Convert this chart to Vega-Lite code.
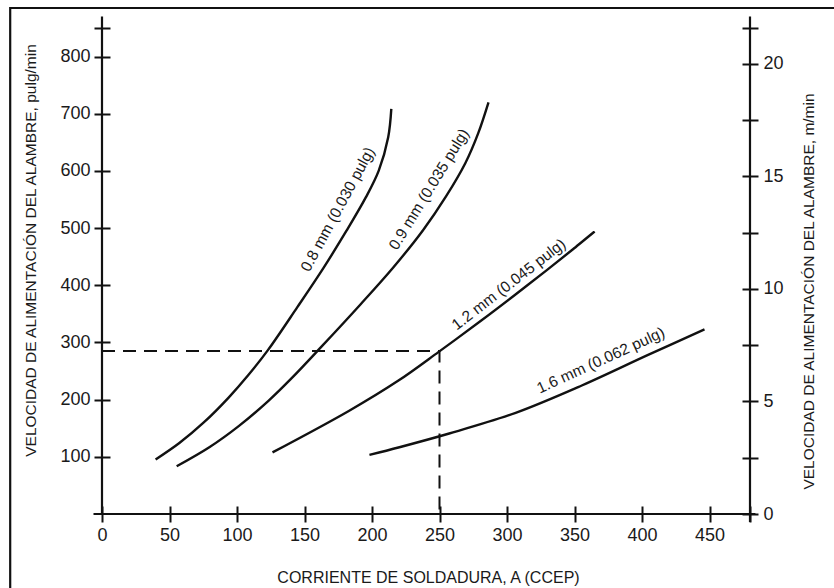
{
  "$schema": "https://vega.github.io/schema/vega-lite/v6.json",
  "width": 648,
  "height": 486,
  "autosize": {"type": "none"},
  "padding": {"left": 102, "top": 28, "right": 84, "bottom": 74},
  "background": "white",
  "config": {
    "view": {"stroke": null},
    "font": "Liberation Sans",
    "axis": {
      "grid": false,
      "domain": false,
      "offset": -8,
      "tickSize": 16,
      "tickWidth": 2,
      "tickColor": "#111",
      "labelFont": "Liberation Sans",
      "labelFontSize": 18,
      "labelColor": "#1a1a1a",
      "labelFlush": false,
      "labelOverlap": false,
      "titleFont": "Liberation Sans",
      "titleFontSize": 15.5,
      "titleFontWeight": "normal",
      "titleColor": "#1a1a1a"
    }
  },
  "datasets": {
    "curves": [
      {"alambre": "0.8", "corriente": 39.7, "velocidad": 95.3},
      {"alambre": "0.8", "corriente": 57.3, "velocidad": 124.1},
      {"alambre": "0.8", "corriente": 75.6, "velocidad": 160.5},
      {"alambre": "0.8", "corriente": 93.8, "velocidad": 203.6},
      {"alambre": "0.8", "corriente": 108.4, "velocidad": 243},
      {"alambre": "0.8", "corriente": 122.9, "velocidad": 286.6},
      {"alambre": "0.8", "corriente": 144.7, "velocidad": 361.8},
      {"alambre": "0.8", "corriente": 164.1, "velocidad": 430.5},
      {"alambre": "0.8", "corriente": 181, "velocidad": 495},
      {"alambre": "0.8", "corriente": 195.4, "velocidad": 553.7},
      {"alambre": "0.8", "corriente": 205, "velocidad": 600.6},
      {"alambre": "0.8", "corriente": 212, "velocidad": 659},
      {"alambre": "0.8", "corriente": 214.3, "velocidad": 708.6},
      {"alambre": "0.9", "corriente": 55.3, "velocidad": 83.4},
      {"alambre": "0.9", "corriente": 79.5, "velocidad": 116.7},
      {"alambre": "0.9", "corriente": 101.5, "velocidad": 154.1},
      {"alambre": "0.9", "corriente": 123.5, "velocidad": 198.3},
      {"alambre": "0.9", "corriente": 140.5, "velocidad": 237.5},
      {"alambre": "0.9", "corriente": 162.4, "velocidad": 292.2},
      {"alambre": "0.9", "corriente": 191.6, "velocidad": 366.9},
      {"alambre": "0.9", "corriente": 215.9, "velocidad": 431.6},
      {"alambre": "0.9", "corriente": 237.8, "velocidad": 496.3},
      {"alambre": "0.9", "corriente": 254.7, "velocidad": 555},
      {"alambre": "0.9", "corriente": 269.1, "velocidad": 613.5},
      {"alambre": "0.9", "corriente": 278.7, "velocidad": 666.2},
      {"alambre": "0.9", "corriente": 286.3, "velocidad": 720.1},
      {"alambre": "1.2", "corriente": 126.3, "velocidad": 107.7},
      {"alambre": "1.2", "corriente": 182.8, "velocidad": 180.2},
      {"alambre": "1.2", "corriente": 219.6, "velocidad": 233.4},
      {"alambre": "1.2", "corriente": 249.4, "velocidad": 283.6},
      {"alambre": "1.2", "corriente": 280.7, "velocidad": 338},
      {"alambre": "1.2", "corriente": 305.1, "velocidad": 381.8},
      {"alambre": "1.2", "corriente": 329.5, "velocidad": 426.6},
      {"alambre": "1.2", "corriente": 349.1, "velocidad": 463.4},
      {"alambre": "1.2", "corriente": 364.9, "velocidad": 494},
      {"alambre": "1.6", "corriente": 198.1, "velocidad": 103.5},
      {"alambre": "1.6", "corriente": 220.3, "velocidad": 116.8},
      {"alambre": "1.6", "corriente": 257.2, "velocidad": 140.8},
      {"alambre": "1.6", "corriente": 306.4, "velocidad": 176.9},
      {"alambre": "1.6", "corriente": 355.4, "velocidad": 224.7},
      {"alambre": "1.6", "corriente": 404.5, "velocidad": 278.2},
      {"alambre": "1.6", "corriente": 446.3, "velocidad": 322.9}
    ],
    "labels": [
      {"alambre": "0.8", "corriente": 174.6, "velocidad": 532.7, "texto": "0.8 mm (0.030 pulg)"},
      {"alambre": "0.9", "corriente": 242.2, "velocidad": 567.8, "texto": "0.9 mm (0.035 pulg)"},
      {"alambre": "1.2", "corriente": 301.3, "velocidad": 401.5, "texto": "1.2 mm (0.045 pulg)"},
      {"alambre": "1.6", "corriente": 369.4, "velocidad": 268.7, "texto": "1.6 mm (0.062 pulg)"}
    ],
    "guide": [
      {"i": 0, "corriente": 0, "velocidad": 285},
      {"i": 1, "corriente": 250, "velocidad": 285},
      {"i": 2, "corriente": 250, "velocidad": 0}
    ],
    "ejes": [
      {"eje": "izq", "i": 0, "corriente": 0, "velocidad": 0},
      {"eje": "izq", "i": 1, "corriente": 0, "velocidad": 870},
      {"eje": "inf", "i": 0, "corriente": -6.3, "velocidad": 0},
      {"eje": "inf", "i": 1, "corriente": 484, "velocidad": 0},
      {"eje": "marco", "i": 0, "corriente": -68, "velocidad": -200},
      {"eje": "marco", "i": 1, "corriente": -68, "velocidad": 885},
      {"eje": "marco", "i": 2, "corriente": 620, "velocidad": 885}
    ],
    "ejeder": [
      {"i": 0, "corriente": 480, "velocidad": -14},
      {"i": 1, "corriente": 480, "velocidad": 870}
    ]
  },
  "layer": [
    {
      "data": {"name": "curves"},
      "mark": {"type": "line", "interpolate": "catmull-rom", "stroke": "#111", "strokeWidth": 2.4},
      "encoding": {
        "x": {
          "field": "corriente", "type": "quantitative",
          "scale": {"domain": [0, 480], "nice": false, "zero": false},
          "axis": {
            "orient": "bottom",
            "values": [0, 50, 100, 150, 200, 250, 300, 350, 400, 450, 480],
            "labelExpr": "datum.value == 480 ? '' : datum.label",
            "labelPadding": 4,
            "title": "CORRIENTE DE SOLDADURA, A (CCEP)",
            "titleFontSize": 16,
            "titleX": 326,
            "titleY": 71,
            "titleBaseline": "middle",
            "titleAlign": "center"
          }
        },
        "y": {
          "field": "velocidad", "type": "quantitative",
          "scale": {"domain": [0, 850], "nice": false, "zero": false},
          "axis": {
            "orient": "left",
            "values": [100, 200, 300, 400, 500, 600, 700, 800, 850],
            "labelExpr": "datum.value % 100 == 0 ? datum.label : ''",
            "labelPadding": 4,
            "title": "VELOCIDAD DE ALIMENTACIÓN DEL ALAMBRE, pulg/min",
            "titleAngle": 270,
            "titleX": -80,
            "titleY": 222,
            "titleBaseline": "middle",
            "titleAlign": "center"
          }
        },
        "detail": {"field": "alambre", "type": "nominal"},
        "order": {"field": "velocidad", "type": "quantitative"}
      }
    },
    {
      "data": {"name": "ejeder"},
      "mark": {"type": "line", "stroke": "#111", "strokeWidth": 2.2},
      "encoding": {
        "x": {"field": "corriente", "type": "quantitative"},
        "y": {
          "field": "velocidad", "type": "quantitative",
          "axis": {
            "orient": "right",
            "values": [0, 98.425, 196.85, 295.276, 393.701, 492.126, 590.551, 688.976, 787.402, 850],
            "labelExpr": "abs(datum.value * 0.0254 / 5 - round(datum.value * 0.0254 / 5)) < 0.01 ? format(round(datum.value * 0.0254), 'd') : ''",
            "labelPadding": 5,
            "title": "VELOCIDAD DE ALIMENTACIÓN DEL ALAMBRE, m/min",
            "titleAngle": 270,
            "titleX": 66,
            "titleY": 263,
            "titleBaseline": "middle",
            "titleAlign": "center"
          }
        },
        "order": {"field": "i", "type": "quantitative"}
      }
    },
    {
      "data": {"name": "ejes"},
      "mark": {"type": "line", "stroke": "#111", "strokeWidth": 2.2},
      "encoding": {
        "x": {"field": "corriente", "type": "quantitative"},
        "y": {"field": "velocidad", "type": "quantitative", "axis": null},
        "detail": {"field": "eje", "type": "nominal"},
        "order": {"field": "i", "type": "quantitative"}
      }
    },
    {
      "data": {"name": "guide"},
      "mark": {"type": "line", "stroke": "#111", "strokeWidth": 2, "strokeDash": [13, 8]},
      "encoding": {
        "x": {"field": "corriente", "type": "quantitative"},
        "y": {"field": "velocidad", "type": "quantitative", "axis": null},
        "order": {"field": "i", "type": "quantitative"}
      }
    },
    {
      "data": {"name": "labels"},
      "transform": [{"filter": "datum.alambre == '0.8'"}],
      "mark": {"type": "text", "angle": -61.7, "align": "center", "baseline": "middle", "fontSize": 15.5, "font": "Liberation Sans", "fill": "#1a1a1a"},
      "encoding": {
        "x": {"field": "corriente", "type": "quantitative"},
        "y": {"field": "velocidad", "type": "quantitative", "axis": null},
        "text": {"field": "texto", "type": "nominal"}
      }
    },
    {
      "data": {"name": "labels"},
      "transform": [{"filter": "datum.alambre == '0.9'"}],
      "mark": {"type": "text", "angle": -58.5, "align": "center", "baseline": "middle", "fontSize": 15.5, "font": "Liberation Sans", "fill": "#1a1a1a"},
      "encoding": {
        "x": {"field": "corriente", "type": "quantitative"},
        "y": {"field": "velocidad", "type": "quantitative", "axis": null},
        "text": {"field": "texto", "type": "nominal"}
      }
    },
    {
      "data": {"name": "labels"},
      "transform": [{"filter": "datum.alambre == '1.2'"}],
      "mark": {"type": "text", "angle": -37.6, "align": "center", "baseline": "middle", "fontSize": 15.5, "font": "Liberation Sans", "fill": "#1a1a1a"},
      "encoding": {
        "x": {"field": "corriente", "type": "quantitative"},
        "y": {"field": "velocidad", "type": "quantitative", "axis": null},
        "text": {"field": "texto", "type": "nominal"}
      }
    },
    {
      "data": {"name": "labels"},
      "transform": [{"filter": "datum.alambre == '1.6'"}],
      "mark": {"type": "text", "angle": -24.5, "align": "center", "baseline": "middle", "fontSize": 15.5, "font": "Liberation Sans", "fill": "#1a1a1a"},
      "encoding": {
        "x": {"field": "corriente", "type": "quantitative"},
        "y": {"field": "velocidad", "type": "quantitative", "axis": null},
        "text": {"field": "texto", "type": "nominal"}
      }
    }
  ],
  "resolve": {"axis": {"y": "independent"}}
}
